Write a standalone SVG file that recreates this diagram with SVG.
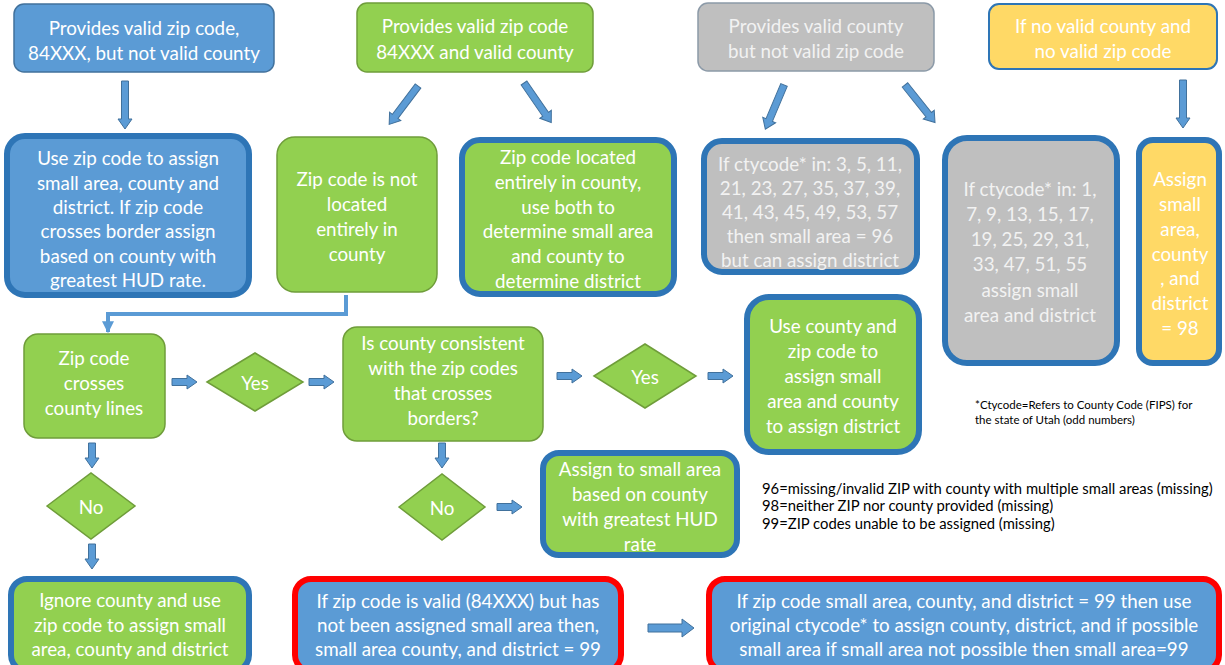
<svg xmlns="http://www.w3.org/2000/svg" xmlns:xlink="http://www.w3.org/1999/xlink" width="1225" height="665" viewBox="0 0 1225 665">
<style>
.t{font-family:Lato,"Liberation Sans",sans-serif;font-size:18.8px;fill:#ffffff;text-anchor:middle;dominant-baseline:central}
.tg{fill:#f2f2f2}
.n{font-family:Lato,"Liberation Sans",sans-serif;fill:#000;dominant-baseline:central}
.blue{fill:#5b9bd5;stroke:#41719c;stroke-width:1.5}
.green{fill:#92d050;stroke:#6f9d3a;stroke-width:1.5}
.gray{fill:#bfbfbf;stroke:#8c9aa8;stroke-width:1.5}
.yellow{fill:#ffd966;stroke:#2e75b6;stroke-width:2}
.thick{stroke:#2e75b6;stroke-width:6}
.red{stroke:#ff0000;stroke-width:6}
.arr{fill:#5b9bd5;stroke:#41719c;stroke-width:1}
</style>
<defs>
<polygon id="as" class="arr" points="0,-3.5 15,-3.5 15,-7 25,0 15,7 15,3.5 0,3.5"/>
<polygon id="al" class="arr" points="0,-3.5 38,-3.5 38,-7 48,0 38,7 38,3.5 0,3.5"/>
<marker id="mh" viewBox="0 0 10 10" refX="9" refY="5" markerWidth="3" markerHeight="3" orient="auto"><path d="M0,0 L10,5 L0,10 z" fill="#5b9bd5"/></marker>
</defs>

<g id="connectors">
<use xlink:href="#al" transform="translate(125,81) rotate(90)"/>
<use xlink:href="#al" transform="translate(418,86) rotate(126.9)"/>
<use xlink:href="#al" transform="translate(524,83) rotate(55.4)"/>
<use xlink:href="#al" transform="translate(784,85) rotate(112.9)"/>
<use xlink:href="#al" transform="translate(905,85) rotate(51.3)"/>
<use xlink:href="#al" transform="translate(1183,80) rotate(90)"/>
<path d="M346,295 V314 H108 V332" fill="none" stroke="#5b9bd5" stroke-width="4" marker-end="url(#mh)"/>
<use xlink:href="#as" transform="translate(172,382)"/>
<use xlink:href="#as" transform="translate(309,382)"/>
<use xlink:href="#as" transform="translate(557,376)"/>
<use xlink:href="#as" transform="translate(708,376)"/>
<use xlink:href="#as" transform="translate(92,443) rotate(90)"/>
<use xlink:href="#as" transform="translate(92,544) rotate(90)"/>
<use xlink:href="#as" transform="translate(442,443) rotate(90)"/>
<use xlink:href="#as" transform="translate(497,507)"/>
<polygon class="arr" points="648,624 682,624 682,619 694,628 682,637 682,632 648,632"/>
</g>

<g id="nodeA"><rect class="blue" x="14" y="4" width="260" height="68" rx="10"/>
<text class="t" x="144" y="27">Provides valid zip code,</text><text class="t" x="144" y="52">84XXX, but not valid county</text></g>
<g id="nodeB"><rect class="green" x="357" y="3" width="236" height="69" rx="10"/>
<text class="t" x="475" y="25">Provides valid zip code</text><text class="t" x="475" y="51">84XXX and valid county</text></g>
<g id="nodeC"><rect class="gray" x="698" y="3" width="236" height="68" rx="10"/>
<text class="t tg" x="816" y="25">Provides valid county</text><text class="t tg" x="816" y="50">but not valid zip code</text></g>
<g id="nodeD"><rect class="yellow" x="989" y="4" width="228" height="65" rx="10"/>
<text class="t" x="1103" y="25">If no valid county and</text><text class="t" x="1103" y="50">no valid zip code</text></g>

<g id="nodeE"><rect class="blue thick" x="7" y="136" width="242" height="159" rx="18"/>
<text class="t" x="128" y="157">Use zip code to assign</text><text class="t" x="128" y="182">small area, county and</text><text class="t" x="128" y="206">district. If zip code</text><text class="t" x="128" y="230">crosses border assign</text><text class="t" x="128" y="255">based on county with</text><text class="t" x="128" y="279">greatest HUD rate.</text></g>
<g id="nodeF"><rect class="green" x="277" y="137" width="160" height="155" rx="18"/>
<text class="t" x="357" y="178">Zip code is not</text><text class="t" x="357" y="203">located</text><text class="t" x="357" y="228">entirely in</text><text class="t" x="357" y="253">county</text></g>
<g id="nodeG"><rect class="green thick" x="462" y="140" width="212" height="154" rx="18"/>
<text class="t" x="568" y="156">Zip code located</text><text class="t" x="568" y="181">entirely in county,</text><text class="t" x="568" y="206">use both to</text><text class="t" x="568" y="230">determine small area</text><text class="t" x="568" y="255">and county to</text><text class="t" x="568" y="280">determine district</text></g>
<g id="nodeH"><rect class="gray thick" x="704" y="141" width="213" height="131" rx="18"/>
<text class="t tg" x="810" y="163" font-size="18">If ctycode* in: 3, 5, 11,</text><text class="t tg" x="810" y="187" font-size="18">21, 23, 27, 35, 37, 39,</text><text class="t tg" x="810" y="211" font-size="18">41, 43, 45, 49, 53, 57</text><text class="t tg" x="810" y="235" font-size="18">then small area = 96</text><text class="t tg" x="810" y="259" font-size="18">but can assign district</text></g>
<g id="nodeI"><rect class="gray thick" x="945" y="138" width="172" height="225" rx="22"/>
<text class="t tg" x="1030" y="188">If ctycode* in: 1,</text><text class="t tg" x="1030" y="213">7, 9, 13, 15, 17,</text><text class="t tg" x="1030" y="238">19, 25, 29, 31,</text><text class="t tg" x="1030" y="263">33, 47, 51, 55</text><text class="t tg" x="1030" y="289">assign small</text><text class="t tg" x="1030" y="314">area and district</text></g>
<g id="nodeJ"><rect class="yellow thick" x="1139" y="140" width="80" height="223" rx="14"/>
<text class="t" x="1180" y="178">Assign</text><text class="t" x="1180" y="203">small</text><text class="t" x="1180" y="228">area,</text><text class="t" x="1180" y="253">county</text><text class="t" x="1180" y="277">, and</text><text class="t" x="1180" y="302">district</text><text class="t" x="1180" y="327">= 98</text></g>

<g id="nodeK"><rect class="green" x="24" y="334" width="141" height="104" rx="14"/>
<text class="t" x="94" y="357">Zip code</text><text class="t" x="94" y="382">crosses</text><text class="t" x="94" y="407">county lines</text></g>
<g id="nodeYes1"><polygon class="green" points="207,382 255,353 303,382 255,411"/><text class="t" x="255" y="382">Yes</text></g>
<g id="nodeL"><rect class="green" x="343" y="327" width="200" height="114" rx="14"/>
<text class="t" x="443" y="342">Is county consistent</text><text class="t" x="443" y="367">with the zip codes</text><text class="t" x="443" y="392">that crosses</text><text class="t" x="443" y="417">borders?</text></g>
<g id="nodeYes2"><polygon class="green" points="594,376 645,344 696,376 645,408"/><text class="t" x="645" y="376">Yes</text></g>
<g id="nodeM"><rect class="green thick" x="747" y="297" width="172" height="155" rx="22"/>
<text class="t" x="833" y="325">Use county and</text><text class="t" x="833" y="350">zip code to</text><text class="t" x="833" y="375">assign small</text><text class="t" x="833" y="400">area and county</text><text class="t" x="833" y="425">to assign district</text></g>
<g id="nodeNo1"><polygon class="green" points="47,506 91,473 135,506 91,539"/><text class="t" x="91" y="506">No</text></g>
<g id="nodeNo2"><polygon class="green" points="399,507 442,474 485,507 442,540"/><text class="t" x="442" y="507">No</text></g>
<g id="nodeO"><rect class="green thick" x="543" y="453" width="194" height="102" rx="16"/>
<text class="t" x="640" y="468">Assign to small area</text><text class="t" x="640" y="493">based on county</text><text class="t" x="640" y="518">with greatest HUD</text><text class="t" x="640" y="543">rate</text></g>

<g id="nodeN"><rect class="green thick" x="11" y="579" width="238" height="92" rx="16"/>
<text class="t" x="130" y="599">Ignore county and use</text><text class="t" x="130" y="624">zip code to assign small</text><text class="t" x="130" y="648">area, county and district</text></g>
<g id="nodeP"><rect class="blue red" x="295" y="579" width="326" height="92" rx="16"/>
<text class="t" x="458" y="600">If zip code is valid (84XXX) but has</text><text class="t" x="458" y="624">not been assigned small area then,</text><text class="t" x="458" y="648">small area county, and district = 99</text></g>
<g id="nodeQ"><rect class="blue red" x="709" y="579" width="510" height="92" rx="16"/>
<text class="t" x="964" y="600" font-size="19.5">If zip code small area, county, and district = 99 then use</text><text class="t" x="964" y="624" font-size="19.5">original ctycode* to assign county, district, and if possible</text><text class="t" x="964" y="648" font-size="19.5">small area if small area not possible then small area=99</text></g>

<g id="notes">
<text class="n" x="975" y="404" font-size="11.5">*Ctycode=Refers  to County Code (FIPS) for</text>
<text class="n" x="975" y="419" font-size="11.5">the state of Utah (odd numbers)</text>
<text class="n" x="762" y="488" font-size="14.8">96=missing/invalid ZIP with county with multiple small areas (missing)</text>
<text class="n" x="762" y="505" font-size="14.8">98=neither ZIP nor county provided (missing)</text>
<text class="n" x="762" y="523" font-size="14.8">99=ZIP codes unable to be assigned (missing)</text>
</g>
</svg>
